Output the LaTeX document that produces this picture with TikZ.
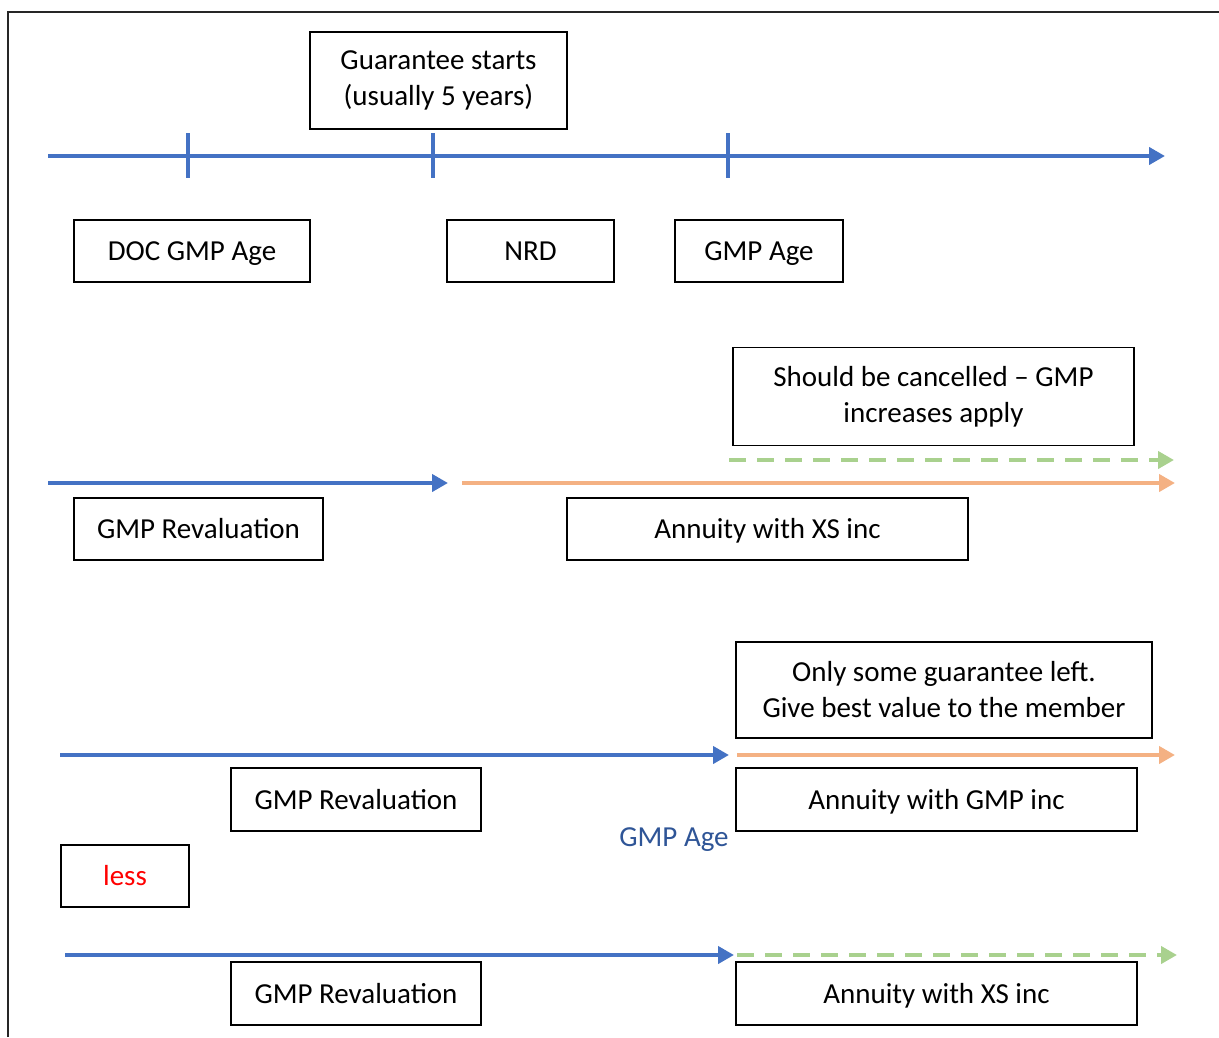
\documentclass[tikz,border=0pt]{standalone}
\usepackage{fontspec}
\setmainfont{Carlito}
\usetikzlibrary{arrows.meta}
\definecolor{lineblue}{HTML}{4472C4}
\definecolor{lineorange}{HTML}{F4B183}
\definecolor{linegreen}{HTML}{A9D18E}
\definecolor{labelblue}{HTML}{2F5597}
\definecolor{framegray}{HTML}{262626}
\begin{document}
\begin{tikzpicture}[x=1pt,y=-1pt,
  every node/.style={font=\fontsize{29}{36}\selectfont, inner sep=0pt, align=center},
  oneline/.style={text height=23pt, text depth=4pt},
  tbox/.style={draw=black, line width=1.3pt, fill=white},
  flow/.style={line width=4pt, -{Triangle[length=16pt,width=17pt]}},
  blueflow/.style={flow, lineblue},
  orangeflow/.style={flow, lineorange},
  greenflow/.style={flow, linegreen, dash pattern=on 17pt off 11pt},
  tick/.style={line width=3.5pt, lineblue}]
\useasboundingbox (0,0) rectangle (1219,1037);
\fill[white] (0,0) rectangle (1219,1037);
% outer frame (top and left edges)
\draw[framegray, line width=2pt] (8,1037) -- (8,12) -- (1219,12);

% ---- main timeline ----
\coordinate (t0) at (48,156);
\coordinate (t1) at (1165,156);
\draw[blueflow] (t0) -- (t1);
\coordinate (k1a) at (188,133); \coordinate (k1b) at (188,178);
\coordinate (k2a) at (433,133); \coordinate (k2b) at (433,178);
\coordinate (k3a) at (728,133); \coordinate (k3b) at (728,178);
\draw[tick] (k1a) -- (k1b);
\draw[tick] (k2a) -- (k2b);
\draw[tick] (k3a) -- (k3b);

\node[tbox, minimum width=257pt, minimum height=97pt] (guar) at (438.5,80.5) {Guarantee starts\\(usually 5 years)};
\node[tbox, oneline, minimum width=236pt, minimum height=62pt] (doc) at (192,251) {DOC GMP Age};
\node[tbox, oneline, minimum width=167pt, minimum height=62pt] (nrd) at (530.5,251) {NRD};
\node[tbox, oneline, minimum width=168pt, minimum height=62pt] (gmpage) at (759,251) {GMP Age};

% ---- scenario 1 ----
\node[tbox, minimum width=401pt, minimum height=98pt] (cancel) at (933.5,396.5) {Should be cancelled -- GMP\\increases apply};
\coordinate (g1a) at (729,460); \coordinate (g1b) at (1174,460);
\draw[greenflow] (g1a) -- (g1b);
\coordinate (b1a) at (48,483); \coordinate (b1b) at (448,483);
\draw[blueflow] (b1a) -- (b1b);
\coordinate (o1a) at (462,483); \coordinate (o1b) at (1175,483);
\draw[orangeflow] (o1a) -- (o1b);
\node[tbox, oneline, minimum width=249pt, minimum height=62pt] (reval1) at (198.5,529) {GMP Revaluation};
\node[tbox, oneline, minimum width=401pt, minimum height=62pt] (xs1) at (767.5,529) {Annuity with XS inc};

% ---- scenario 2 ----
\node[tbox, minimum width=416pt, minimum height=96pt] (some) at (944,690) {Only some guarantee left.\\Give best value to the member};
\coordinate (b2a) at (60,755); \coordinate (b2b) at (729,755);
\draw[blueflow] (b2a) -- (b2b);
\coordinate (o2a) at (737,755); \coordinate (o2b) at (1175,755);
\draw[orangeflow] (o2a) -- (o2b);
\node[tbox, oneline, minimum width=250pt, minimum height=63pt] (reval2) at (356,799.5) {GMP Revaluation};
\node[tbox, oneline, minimum width=401pt, minimum height=63pt] (gmpinc) at (936.5,799.5) {Annuity with GMP inc};
\node[oneline, text=labelblue] (agelabel) at (674,837) {GMP Age};
\node[tbox, oneline, minimum width=128pt, minimum height=62pt, text=red] (less) at (125,876) {less};

% ---- scenario 3 ----
\coordinate (b3a) at (65,955); \coordinate (b3b) at (734,955);
\draw[blueflow] (b3a) -- (b3b);
\coordinate (g3a) at (737,955); \coordinate (g3b) at (1177,955);
\draw[greenflow] (g3a) -- (g3b);
\node[tbox, oneline, minimum width=250pt, minimum height=63pt] (reval3) at (356,993.5) {GMP Revaluation};
\node[tbox, oneline, minimum width=401pt, minimum height=63pt] (xs3) at (936.5,993.5) {Annuity with XS inc};
\end{tikzpicture}
\end{document}
